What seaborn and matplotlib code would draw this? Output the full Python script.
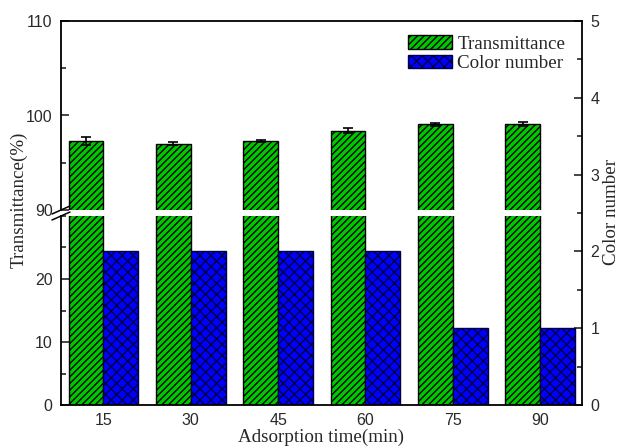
import numpy as np
import matplotlib
matplotlib.use("Agg")
import matplotlib.pyplot as plt
import seaborn as sns
from matplotlib.ticker import MultipleLocator

# data
times = np.array([15, 30, 45, 60, 75, 90])
transmittance = [97.3, 97.0, 97.3, 98.4, 99.05, 99.1]
trans_err = [0.4, 0.15, 0.15, 0.3, 0.2, 0.2]
color_number = [2, 2, 2, 2, 1, 1]
tick_labels = ["15", "30", "45", "60", "75", "90"]

sns.set_style("ticks")
plt.rcParams["hatch.linewidth"] = 1.0
serif = ["Liberation Serif", "DejaVu Serif"]
sans = ["Liberation Sans", "DejaVu Sans"]

fig = plt.figure(figsize=(6.19, 4.48), dpi=100)
W, H = 619, 448
x0, x1 = 61 / W, 582 / W
ax_top = fig.add_axes([x0, 1 - 210 / H, x1 - x0, 189 / H])
ax_bot = fig.add_axes([x0, 1 - 405 / H, x1 - x0, 189 / H])
ax_right = fig.add_axes([x0, 1 - 405 / H, x1 - x0, 384 / H])
ax_right.patch.set_alpha(0)

green = "#00c800"
blue = "#0000ff"
half = 3  # half bar width in data units (bar width = 0.4 * 15)

for ax in (ax_top, ax_bot):
    sns.barplot(x=times - half, y=transmittance, native_scale=True, width=0.4,
                color=green, saturation=1, edgecolor="black", linewidth=1.0,
                hatch="/////", errorbar=None, ax=ax)
    ax.errorbar(times - half, transmittance, yerr=trans_err, fmt="none",
                ecolor="black", elinewidth=1.2, capsize=3.5, capthick=1.2)

sns.barplot(x=times + half, y=color_number, native_scale=True, width=0.4,
            color=blue, saturation=1, edgecolor="#000040", linewidth=1.0,
            hatch="xxx", errorbar=None, ax=ax_right)

ax_top.set_ylim(90, 110)
ax_bot.set_ylim(0, 30)
ax_right.set_ylim(0, 5)

for ax in (ax_top, ax_bot, ax_right):
    ax.set_xlim(7.7, 97.2)
    ax.set_xlabel("")
    ax.set_ylabel("")
    for s in ax.spines.values():
        s.set_linewidth(1.3)
        s.set_color("black")

# spines
ax_top.spines["bottom"].set_visible(False)
ax_top.spines["right"].set_visible(False)
ax_top.spines["top"].set_visible(False)
ax_bot.spines["top"].set_visible(False)
ax_bot.spines["right"].set_visible(False)
ax_bot.spines["bottom"].set_visible(False)
ax_right.spines["left"].set_visible(False)

# ticks
ax_top.set_xticks([])
ax_top.yaxis.set_major_locator(MultipleLocator(10))
ax_top.yaxis.set_minor_locator(MultipleLocator(5))
ax_bot.set_xticks([])
ax_bot.yaxis.set_major_locator(MultipleLocator(10))
ax_bot.yaxis.set_minor_locator(MultipleLocator(5))
ax_bot.set_yticks([0, 10, 20])
ax_right.yaxis.tick_right()
ax_right.yaxis.set_major_locator(MultipleLocator(1))
ax_right.yaxis.set_minor_locator(MultipleLocator(0.5))
ax_right.set_xticks(times)
ax_right.set_xticklabels(tick_labels)
ax_right.tick_params(axis="x", length=0, pad=6)

for ax in (ax_top, ax_bot, ax_right):
    ax.tick_params(axis="y", which="major", direction="in", length=6, width=1.2,
                   labelsize=11.5, labelcolor="#2a2a2a", pad=6)
    ax.tick_params(axis="y", which="minor", direction="in", length=3.5, width=1.2)
    ax.tick_params(axis="x", labelsize=11.5, labelcolor="#2a2a2a")
    for lab in ax.get_xticklabels() + ax.get_yticklabels():
        lab.set_family(sans)

# break marks on the left spine
dx, dy = 9 / 521, 4 / 189
kw = dict(color="black", lw=1.1, clip_on=False)
ax_top.plot([-dx, dx], [-dy, dy], transform=ax_top.transAxes, **kw)
ax_bot.plot([-dx, dx], [1 - dy, 1 + dy], transform=ax_bot.transAxes, **kw)

# labels
fig.text(19 / W, 1 - 200 / H, "Transmittance(%)", rotation=90, ha="center",
         va="center", family=serif, fontsize=13.7)
fig.text(611 / W, 1 - 212 / H, "Color number", rotation=90, ha="center",
         va="center", family=serif, fontsize=13.7)
fig.text((x0 + x1) / 2, 1 - 437 / H, "Adsorption time(min)", ha="center",
         va="center", family=serif, fontsize=13.7)

# legend
handles = [ax_top.patches[0], ax_right.patches[0]]
leg = ax_right.legend(handles, ["Transmittance", "Color number"],
                      loc="upper left", bbox_to_anchor=(408 / W, 1 - 35 / H),
                      bbox_transform=fig.transFigure, frameon=False,
                      prop={"family": serif, "size": 13.7},
                      handlelength=2.3, handleheight=0.75, labelspacing=0.1,
                      handletextpad=0.3, borderpad=0, borderaxespad=0)

fig.savefig("out.png", dpi=100)
